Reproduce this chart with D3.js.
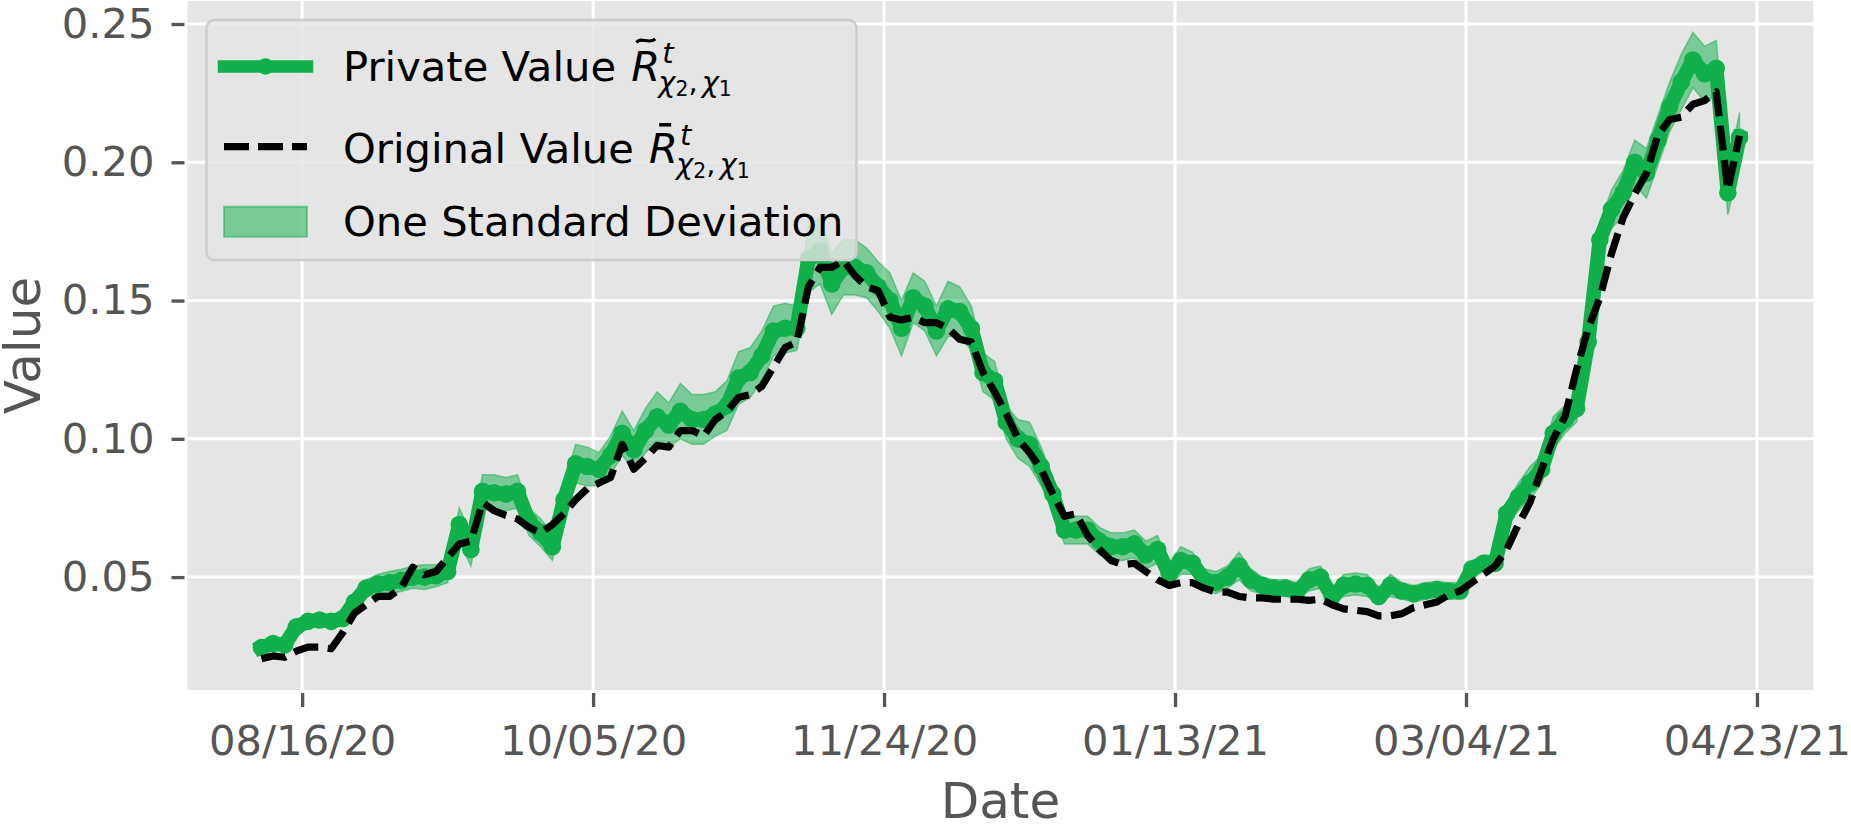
<!DOCTYPE html>
<html>
  <head>
    <meta charset="UTF-8" />
    <title>Private vs Original Value</title>
    <style>
      body { margin: 0; background: #ffffff; }
      svg { display: block; font-family: "DejaVu Sans", sans-serif; }
    </style>
  </head>
  <body>
    <svg width="1851" height="828"></svg>
    <script src="https://d3js.org/d3.v7.min.js"></script>
    <script>
      // one sample every other day, 08/09/20 .. 04/20/21 (128 points)
      var dates = d3.utcDay.range(new Date(Date.UTC(2020, 7, 9)), new Date(Date.UTC(2021, 3, 21)), 2);

      // private value R~ (green line with markers)
      var privateValue = [
        0.0245, 0.026, 0.0255, 0.032, 0.034, 0.0345, 0.034, 0.035, 0.041, 0.046,
        0.0475, 0.048, 0.0488, 0.050, 0.050, 0.0505, 0.052, 0.069, 0.060, 0.081,
        0.0805, 0.080, 0.081, 0.070, 0.066, 0.061, 0.078, 0.091, 0.090, 0.089,
        0.094, 0.102, 0.096, 0.103, 0.108, 0.105, 0.110, 0.107, 0.107, 0.109,
        0.112, 0.122, 0.124, 0.130, 0.139, 0.140, 0.140, 0.165, 0.168, 0.156,
        0.162, 0.162, 0.160, 0.155, 0.150, 0.140, 0.151, 0.148, 0.139, 0.147,
        0.146, 0.140, 0.124, 0.121, 0.106, 0.100, 0.098, 0.090, 0.080, 0.067,
        0.067, 0.067, 0.063, 0.061, 0.061, 0.062, 0.058, 0.060, 0.051, 0.056,
        0.055, 0.049, 0.048, 0.050, 0.054, 0.049, 0.047, 0.046, 0.046, 0.045,
        0.049, 0.050, 0.043, 0.047, 0.0475, 0.047, 0.043, 0.047, 0.045, 0.044,
        0.045, 0.0455, 0.045, 0.045, 0.053, 0.055, 0.055, 0.073, 0.079, 0.084,
        0.089, 0.102, 0.107, 0.111, 0.135, 0.172, 0.183, 0.189, 0.200, 0.196,
        0.208, 0.220, 0.229, 0.237, 0.232, 0.234, 0.189, 0.209
      ];

      // original value R- (black dashed)
      var originalValue = [
        0.0205, 0.0215, 0.021, 0.0232, 0.0247, 0.0247, 0.0241, 0.030, 0.037, 0.040,
        0.043, 0.043, 0.046, 0.0536, 0.0508, 0.052, 0.057, 0.062, 0.063, 0.077,
        0.074, 0.0723, 0.071, 0.068, 0.066, 0.069, 0.073, 0.078, 0.082, 0.084,
        0.086, 0.098, 0.089, 0.093, 0.0976, 0.097, 0.103, 0.103, 0.101, 0.107,
        0.110, 0.115, 0.116, 0.119, 0.126, 0.133, 0.135, 0.155, 0.162, 0.162,
        0.1645, 0.159, 0.155, 0.1536, 0.144, 0.143, 0.144, 0.142, 0.142, 0.140,
        0.136, 0.135, 0.124, 0.117, 0.109, 0.100, 0.095, 0.089, 0.080, 0.072,
        0.0729, 0.065, 0.060, 0.056, 0.0545, 0.055, 0.052, 0.049, 0.047, 0.048,
        0.048, 0.046, 0.0446, 0.0446, 0.043, 0.0425, 0.0425, 0.042, 0.042, 0.042,
        0.0416, 0.042, 0.040, 0.0385, 0.038, 0.0375, 0.036, 0.036, 0.0368, 0.039,
        0.040, 0.041, 0.0435, 0.045, 0.048, 0.051, 0.054, 0.060, 0.069, 0.077,
        0.089, 0.100, 0.108, 0.125, 0.140, 0.151, 0.167, 0.180, 0.1886, 0.196,
        0.210, 0.2155, 0.2163, 0.221, 0.2223, 0.2255, 0.190, 0.2096
      ];

      // one standard deviation around the private value
      var stdDev = [
        0.002, 0.002, 0.002, 0.002, 0.002, 0.002, 0.002, 0.0025, 0.003, 0.003,
        0.0035, 0.004, 0.004, 0.004, 0.0045, 0.004, 0.004, 0.006, 0.006, 0.006,
        0.0065, 0.006, 0.006, 0.005, 0.005, 0.005, 0.006, 0.007, 0.007, 0.006,
        0.007, 0.008, 0.007, 0.008, 0.009, 0.008, 0.010, 0.009, 0.009, 0.008,
        0.009, 0.0095, 0.009, 0.009, 0.009, 0.009, 0.008, 0.012, 0.012, 0.011,
        0.010, 0.010, 0.009, 0.009, 0.010, 0.010, 0.009, 0.009, 0.009, 0.010,
        0.009, 0.008, 0.007, 0.007, 0.006, 0.007, 0.008, 0.007, 0.006, 0.005,
        0.005, 0.005, 0.005, 0.005, 0.005, 0.005, 0.005, 0.005, 0.004, 0.005,
        0.004, 0.004, 0.004, 0.004, 0.005, 0.004, 0.003, 0.003, 0.003, 0.003,
        0.004, 0.004, 0.003, 0.004, 0.004, 0.004, 0.003, 0.004, 0.003, 0.003,
        0.003, 0.003, 0.003, 0.003, 0.003, 0.003, 0.003, 0.004, 0.005, 0.006,
        0.005, 0.006, 0.005, 0.005, 0.006, 0.006, 0.007, 0.008, 0.008, 0.009,
        0.009, 0.009, 0.010, 0.010, 0.010, 0.010, 0.008, 0.009
      ];

      var xTickLabels = ["08/16/20", "10/05/20", "11/24/20", "01/13/21", "03/04/21", "04/23/21"];
      var yTickValues = [0.05, 0.10, 0.15, 0.20, 0.25];

      var green = "#10b04b";
      var grey = "#555555";
      var fs = 41.7;

      var rows = dates.map(function (d, i) {
        return { date: d, p: privateValue[i], o: originalValue[i], s: stdDev[i] };
      });

      var svg = d3.select("svg");
      var plotLeft = 187.5, plotRight = 1813.4, plotTop = 1, plotBottom = 690;

      // matplotlib style 5% margins
      var xExt = d3.extent(dates);
      var xPad = (xExt[1] - xExt[0]) * 0.05;
      var x = d3.scaleUtc()
        .domain([new Date(+xExt[0] - xPad), new Date(+xExt[1] + xPad)])
        .range([plotLeft, plotRight]);

      var yMin = d3.min(rows, function (r) { return Math.min(r.o, r.p - r.s); });
      var yMax = d3.max(rows, function (r) { return Math.max(r.o, r.p + r.s); });
      var yPad = (yMax - yMin) * 0.05;
      var y = d3.scaleLinear().domain([yMin - yPad, yMax + yPad]).range([plotBottom, plotTop]);

      var parseTick = d3.utcParse("%m/%d/%y");
      var xTicks = xTickLabels.map(parseTick);

      // panel
      svg.append("rect")
        .attr("x", plotLeft).attr("y", plotTop)
        .attr("width", plotRight - plotLeft).attr("height", plotBottom - plotTop)
        .attr("fill", "#e5e5e5");

      var grid = svg.append("g").attr("stroke", "#ffffff").attr("stroke-width", 3);
      grid.selectAll(".gx").data(xTicks).enter().append("line")
        .attr("x1", function (d) { return x(d); }).attr("x2", function (d) { return x(d); })
        .attr("y1", plotTop).attr("y2", plotBottom);
      grid.selectAll(".gy").data(yTickValues).enter().append("line")
        .attr("x1", plotLeft).attr("x2", plotRight)
        .attr("y1", function (d) { return y(d); }).attr("y2", function (d) { return y(d); });

      // axes
      var xAxis = svg.append("g")
        .attr("transform", "translate(0," + (plotBottom + 3) + ")")
        .call(d3.axisBottom(x).tickValues(xTicks).tickFormat(d3.utcFormat("%m/%d/%y")).tickSize(14).tickPadding(18));
      var yAxis = svg.append("g")
        .attr("transform", "translate(" + (plotLeft - 3) + ",0)")
        .call(d3.axisLeft(y).tickValues(yTickValues).tickFormat(d3.format(".2f")).tickSize(13).tickPadding(17));
      [xAxis, yAxis].forEach(function (a) {
        a.select(".domain").remove();
        a.selectAll(".tick line").attr("stroke", grey).attr("stroke-width", 3.3);
        a.selectAll(".tick text").attr("fill", grey).attr("font-size", fs)
          .attr("font-family", "DejaVu Sans");
      });

      svg.append("text")
        .attr("x", (plotLeft + plotRight) / 2).attr("y", 818)
        .attr("text-anchor", "middle").attr("font-size", 50).attr("fill", grey)
        .text("Date");
      svg.append("text")
        .attr("transform", "translate(40," + (plotTop + plotBottom) / 2 + ") rotate(-90)")
        .attr("text-anchor", "middle").attr("font-size", 50).attr("fill", grey)
        .text("Value");

      // std band
      var band = d3.area()
        .x(function (d) { return x(d.date); })
        .y0(function (d) { return y(d.p - d.s); })
        .y1(function (d) { return y(d.p + d.s); });
      svg.append("path").datum(rows)
        .attr("d", band)
        .attr("fill", green).attr("fill-opacity", 0.5)
        .attr("stroke", green).attr("stroke-opacity", 0.5).attr("stroke-width", 1.5);

      // private value line + markers
      svg.append("path").datum(rows)
        .attr("d", d3.line().x(function (d) { return x(d.date); }).y(function (d) { return y(d.p); }))
        .attr("fill", "none").attr("stroke", green).attr("stroke-width", 14.5)
        .attr("stroke-linejoin", "round").attr("stroke-linecap", "square");
      svg.append("g").selectAll("circle").data(rows).enter().append("circle")
        .attr("cx", function (d) { return x(d.date); })
        .attr("cy", function (d) { return y(d.p); })
        .attr("r", 8.8).attr("fill", green);

      // original value dashed
      svg.append("path").datum(rows)
        .attr("d", d3.line().x(function (d) { return x(d.date); }).y(function (d) { return y(d.o); }))
        .attr("fill", "none").attr("stroke", "#000000").attr("stroke-width", 7.2)
        .attr("stroke-dasharray", "25,9.5").attr("stroke-linejoin", "round");

      // legend
      var lg = svg.append("g");
      lg.append("rect")
        .attr("x", 206.5).attr("y", 20).attr("width", 650).attr("height", 240)
        .attr("rx", 8).attr("ry", 8)
        .attr("fill", "#e5e5e5").attr("fill-opacity", 0.8)
        .attr("stroke", "#cccccc").attr("stroke-width", 2.5);

      lg.append("line").attr("x1", 224).attr("x2", 307).attr("y1", 66.5).attr("y2", 66.5)
        .attr("stroke", green).attr("stroke-width", 12.5).attr("stroke-linecap", "square");
      lg.append("circle").attr("cx", 265.5).attr("cy", 66.5).attr("r", 8.3).attr("fill", green);

      lg.append("line").attr("x1", 224).attr("x2", 307).attr("y1", 146.7).attr("y2", 146.7)
        .attr("stroke", "#000000").attr("stroke-width", 7.2).attr("stroke-dasharray", "25,9");

      lg.append("rect").attr("x", 224).attr("y", 206.7).attr("width", 83).attr("height", 30)
        .attr("fill", green).attr("fill-opacity", 0.5)
        .attr("stroke", green).attr("stroke-opacity", 0.5).attr("stroke-width", 2);

      function mathLabel(g, x0, y0, words, accent) {
        var t = g.append("text").attr("x", x0).attr("y", y0).attr("font-size", fs).text(words);
        var rx = x0 + t.node().getComputedTextLength() + fs * 0.318 + 2;
        var r = g.append("text").attr("x", rx).attr("y", y0).attr("font-size", fs)
          .attr("font-style", "italic").text("R");
        var rw = r.node().getComputedTextLength();
        if (accent === "tilde") {
          g.append("path")
            .attr("d", "M" + (rx + 5) + "," + (y0 - 38.5) +
              " C" + (rx + 10) + "," + (y0 - 45) + " " + (rx + 17) + "," + (y0 - 36) + " " + (rx + 24) + "," + (y0 - 42))
            .attr("fill", "none").attr("stroke", "#000000").attr("stroke-width", 3);
        } else {
          g.append("line").attr("x1", rx + 10).attr("x2", rx + 22)
            .attr("y1", y0 - 38.5).attr("y2", y0 - 38.5)
            .attr("stroke", "#000000").attr("stroke-width", 3.5);
        }
        g.append("text").attr("x", rx + rw + 2).attr("y", y0 - 18)
          .attr("font-size", 29).attr("font-style", "italic").text("t");
        var sub = g.append("text").attr("x", rx + rw - 2).attr("y", y0 + 11).attr("font-size", 29);
        sub.append("tspan").attr("font-style", "italic").text("χ");
        sub.append("tspan").attr("font-size", 20.4).attr("dy", 4).text("2");
        sub.append("tspan").attr("dy", -4).text(",");
        sub.append("tspan").attr("dx", 4).attr("font-style", "italic").text("χ");
        sub.append("tspan").attr("font-size", 20.4).attr("dy", 4).text("1");
      }

      mathLabel(lg, 343, 81, "Private Value", "tilde");
      mathLabel(lg, 343, 163.3, "Original Value", "bar");
      lg.append("text").attr("x", 343).attr("y", 236).attr("font-size", fs).text("One Standard Deviation");
    </script>
  </body>
</html>
